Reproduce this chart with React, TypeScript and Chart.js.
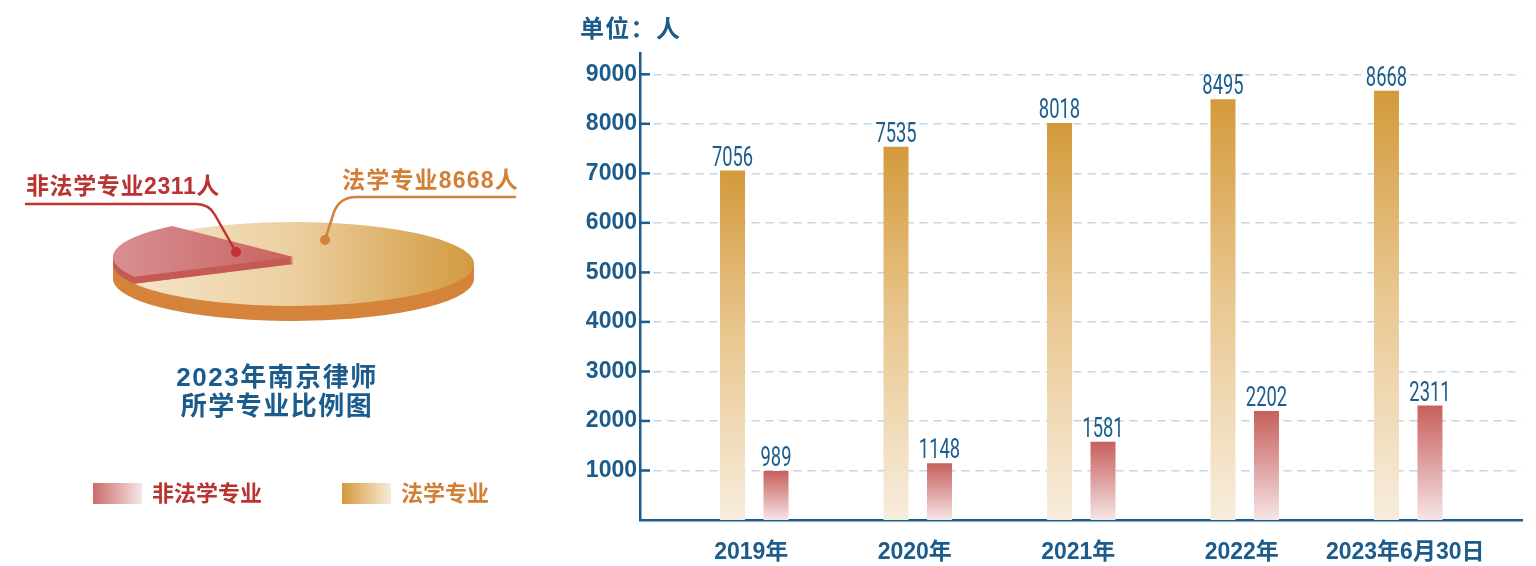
import React, { useEffect, useRef } from 'react';
import { Chart, registerables } from 'chart.js';

Chart.register(...registerables);

// ---------------- data ----------------
const categories = ['2019年', '2020年', '2021年', '2022年', '2023年6月30日'];
const lawMajor = [7056, 7535, 8018, 8495, 8668];
const nonLawMajor = [989, 1148, 1581, 2202, 2311];
const yTicks = [1000, 2000, 3000, 4000, 5000, 6000, 7000, 8000, 9000];
const pieLabels = ['非法学专业', '法学专业'];
const pieValues = [2311, 8668];

// ---------------- style ----------------
const BLUE = '#1b5c8c';
const RED_TEXT = '#b93333';
const ORANGE_TEXT = '#d17f35';
const FONT = "'Liberation Sans', 'Noto Sans CJK SC', sans-serif";

const X_MIN = -0.699;
const X_MAX = 4.696;
const Y_MAX = 9430;

const PIE_SQUISH = 42 / 180.5;
const PIE_THICK = 15;
const PIE_RAISE = 7;
const PIE_ROTATION = 242;

function barGradient(stops: [number, string][]) {
  return (c: any) => {
    const chart = c.chart;
    if (!chart.chartArea || c.type !== 'data' || !c.parsed) return stops[0][1];
    const ys = chart.scales.y;
    const top = ys.getPixelForValue(c.parsed.y);
    const bottom = ys.getPixelForValue(0);
    if (!isFinite(top) || !isFinite(bottom) || top === bottom) return stops[0][1];
    const g = chart.ctx.createLinearGradient(0, top, 0, bottom);
    stops.forEach(([o, col]) => g.addColorStop(o, col));
    return g;
  };
}

const barLabelsPlugin = {
  id: 'barLabels',
  afterDatasetsDraw(chart: any) {
    const ctx = chart.ctx;
    chart.data.datasets.forEach((ds: any, di: number) => {
      const meta = chart.getDatasetMeta(di);
      meta.data.forEach((bar: any, i: number) => {
        const v = ds.data[i].y;
        ctx.save();
        ctx.translate(bar.x, bar.y - 5);
        ctx.scale(0.68, 1);
        ctx.font = '27px Roboto';
        ctx.fillStyle = BLUE;
        ctx.textAlign = 'center';
        ctx.textBaseline = 'alphabetic';
        ctx.fillText(String(v), 0, 0);
        ctx.restore();
      });
    });
  },
};

const yTickMarksPlugin = {
  id: 'yTickMarks',
  afterDraw(chart: any) {
    const ys = chart.scales.y;
    const ctx = chart.ctx;
    const left = chart.chartArea.left;
    ctx.save();
    ctx.strokeStyle = BLUE;
    ctx.lineWidth = 2.5;
    ys.ticks.forEach((t: any) => {
      const py = ys.getPixelForValue(t.value);
      ctx.beginPath();
      ctx.moveTo(left, py);
      ctx.lineTo(left + 10, py);
      ctx.stroke();
    });
    ctx.restore();
  },
};

function sectorPath(ctx: CanvasRenderingContext2D, a: any, dy: number) {
  ctx.save();
  ctx.translate(a.x, a.y + dy);
  ctx.scale(1, PIE_SQUISH);
  ctx.moveTo(0, 0);
  ctx.arc(0, 0, a.outerRadius, a.startAngle, a.endAngle);
  ctx.closePath();
  ctx.restore();
}

const pie3dPlugin = {
  id: 'pie3d',
  beforeDatasetsDraw(chart: any) {
    const ctx: CanvasRenderingContext2D = chart.ctx;
    const arcs = chart.getDatasetMeta(0).data;
    const red = arcs[0];
    const orange = arcs[1];
    const left = red.x - red.outerRadius;
    const right = red.x + red.outerRadius;
    ctx.save();
    // orange base side
    for (let dy = PIE_THICK; dy >= 1; dy--) {
      ctx.beginPath();
      sectorPath(ctx, red, dy);
      sectorPath(ctx, orange, dy);
      ctx.fillStyle = '#d5843b';
      ctx.fill();
    }
    // orange face
    const og = ctx.createLinearGradient(left, 0, right, 0);
    og.addColorStop(0, '#f6e7cf');
    og.addColorStop(0.5, '#ebcf9f');
    og.addColorStop(1, '#d39b40');
    ctx.beginPath();
    sectorPath(ctx, orange, 0);
    ctx.fillStyle = og;
    ctx.fill();
    // red slab side
    for (let dy = 0; dy > -PIE_RAISE; dy--) {
      ctx.beginPath();
      sectorPath(ctx, red, dy);
      ctx.fillStyle = '#c55b56';
      ctx.fill();
    }
    // red face
    const rg = ctx.createLinearGradient(left, 0, red.x, 0);
    rg.addColorStop(0, '#d98e94');
    rg.addColorStop(1, '#c8635f');
    ctx.beginPath();
    sectorPath(ctx, red, -PIE_RAISE);
    ctx.fillStyle = rg;
    ctx.fill();
    ctx.restore();
    return false;
  },
  afterDraw(chart: any) {
    const ctx: CanvasRenderingContext2D = chart.ctx;
    ctx.save();
    ctx.lineWidth = 2.5;
    ctx.lineCap = 'round';
    // red callout
    ctx.strokeStyle = '#c0312f';
    ctx.fillStyle = '#c0312f';
    ctx.beginPath();
    ctx.moveTo(26, 204);
    ctx.lineTo(196, 204);
    ctx.quadraticCurveTo(209, 204, 215, 215);
    ctx.lineTo(236, 252);
    ctx.stroke();
    ctx.beginPath();
    ctx.arc(236, 252, 5, 0, Math.PI * 2);
    ctx.fill();
    // orange callout
    ctx.strokeStyle = '#d38335';
    ctx.fillStyle = '#d38335';
    ctx.beginPath();
    ctx.moveTo(325, 240);
    ctx.lineTo(334, 212);
    ctx.quadraticCurveTo(340, 197, 356, 197);
    ctx.lineTo(515, 197);
    ctx.stroke();
    ctx.beginPath();
    ctx.arc(325, 240, 5, 0, Math.PI * 2);
    ctx.fill();
    ctx.restore();
  },
};

const txt = (extra: React.CSSProperties): React.CSSProperties => ({
  position: 'absolute',
  fontFamily: FONT,
  fontWeight: 'bold',
  whiteSpace: 'nowrap',
  margin: 0,
  ...extra,
});

export default function App() {
  const barRef = useRef<HTMLCanvasElement>(null);
  const pieRef = useRef<HTMLCanvasElement>(null);

  useEffect(() => {
    const tickFont = { family: FONT, size: 23, weight: 'bold' as const };
    const bar = new Chart(barRef.current as HTMLCanvasElement, {
      type: 'bar',
      data: {
        datasets: [
          {
            label: '法学专业',
            data: lawMajor.map((v, i) => ({ x: i, y: v })),
            backgroundColor: barGradient([
              [0, '#d39a3b'],
              [0.45, '#e8c58c'],
              [1, '#f7eddd'],
            ]),
            borderWidth: 0,
          },
          {
            label: '非法学专业',
            data: nonLawMajor.map((v, i) => ({ x: i, y: v })),
            backgroundColor: barGradient([
              [0, '#c6605c'],
              [0.5, '#dea0a0'],
              [1, '#f6e5e5'],
            ]),
            borderWidth: 0,
          },
        ],
      },
      options: {
        responsive: false,
        animation: false,
        events: [],
        layout: { padding: { top: 53, right: 14, left: 0, bottom: 0 } },
        datasets: { bar: { categoryPercentage: 0.532, barPercentage: 0.575 } },
        plugins: { legend: { display: false }, tooltip: { enabled: false } },
        scales: {
          x: {
            type: 'linear',
            min: X_MIN,
            max: X_MAX,
            offset: false,
            z: 1,
            afterBuildTicks: (s: any) => {
              s.ticks = categories.map((_, i) => ({ value: i }));
            },
            afterFit: (s: any) => {
              s.height = 46;
            },
            grid: { display: false, drawTicks: false, offset: false },
            border: { display: true, color: BLUE, width: 2.5 },
            ticks: {
              autoSkip: false,
              maxRotation: 0,
              padding: 19,
              labelOffset: -3,
              color: BLUE,
              font: tickFont,
              callback: (_v: any, i: number) => categories[i],
            },
          },
          y: {
            min: 0,
            max: Y_MAX,
            z: 1,
            afterBuildTicks: (s: any) => {
              s.ticks = yTicks.map((v) => ({ value: v }));
            },
            afterFit: (s: any) => {
              s.width = 100;
            },
            grid: { color: 'rgba(126,162,191,0.45)', lineWidth: 1.5, drawTicks: false },
            border: { display: true, color: BLUE, width: 2.5, dash: [8, 6], dashOffset: 2 },
            ticks: {
              padding: 3,
              color: BLUE,
              font: tickFont,
              callback: (v: any) => String(v),
            },
          },
        },
      } as any,
      plugins: [barLabelsPlugin, yTickMarksPlugin],
    });

    const pie = new Chart(pieRef.current as HTMLCanvasElement, {
      type: 'pie',
      data: {
        labels: pieLabels,
        datasets: [
          {
            data: pieValues,
            backgroundColor: ['#c8635f', '#d39b40'],
            borderWidth: 0,
            hoverOffset: 0,
          },
        ],
      },
      options: {
        responsive: false,
        animation: false,
        events: [],
        rotation: PIE_ROTATION,
        layout: { padding: { left: 113, right: 66, top: 83.5, bottom: 121.5 } },
        plugins: { legend: { display: false }, tooltip: { enabled: false } },
      } as any,
      plugins: [pie3dPlugin],
    });

    return () => {
      bar.destroy();
      pie.destroy();
    };
  }, []);

  return (
    <div
      style={{
        position: 'fixed',
        left: 0,
        top: 0,
        width: 1536,
        height: 566,
        background: '#ffffff',
        overflow: 'hidden',
      }}
    >
      <canvas ref={pieRef} width={540} height={566} style={{ position: 'absolute', left: 0, top: 0, display: 'block' }} />
      <canvas ref={barRef} width={996} height={566} style={{ position: 'absolute', left: 540, top: 0, display: 'block' }} />

      <div style={txt({ left: 26, top: 174.5, fontSize: 23, lineHeight: '23px', letterSpacing: '0.6px', color: RED_TEXT })}>非法学专业2311人</div>
      <div style={txt({ left: 342, top: 168.5, fontSize: 23, lineHeight: '23px', letterSpacing: '1.2px', color: ORANGE_TEXT })}>法学专业8668人</div>

      <div style={txt({ left: 127, top: 362.5, width: 300, textAlign: 'center', fontSize: 26, lineHeight: '29px', letterSpacing: '1.5px', color: BLUE })}>
        2023年南京律师
        <br />
        所学专业比例图
      </div>

      <div style={{ position: 'absolute', left: 93, top: 483, width: 49, height: 21, background: 'linear-gradient(to right, #cc6b6b, #f6e6e6)' }} />
      <div style={txt({ left: 152, top: 483.4, fontSize: 22, lineHeight: '22px', color: RED_TEXT })}>非法学专业</div>
      <div style={{ position: 'absolute', left: 342, top: 483, width: 49, height: 21, background: 'linear-gradient(to right, #d4993b, #f7ecd9)' }} />
      <div style={txt({ left: 401, top: 483.4, fontSize: 22, lineHeight: '22px', color: ORANGE_TEXT })}>法学专业</div>

      <div style={txt({ left: 580, top: 16.7, fontSize: 24, lineHeight: '24px', letterSpacing: '1.3px', color: BLUE })}>单位：人</div>
    </div>
  );
}
